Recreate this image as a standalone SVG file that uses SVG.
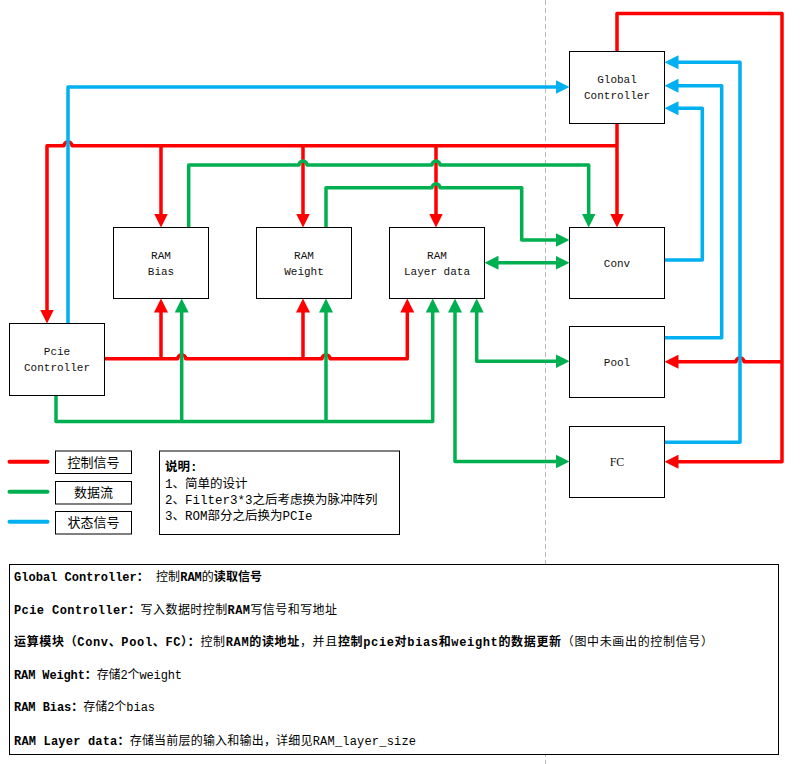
<svg xmlns="http://www.w3.org/2000/svg" width="802" height="764" viewBox="0 0 802 764">
  <style>
    .ctl { fill: none; stroke: #FF0000; stroke-width: 3.5; stroke-linejoin: round; }
    .dat { fill: none; stroke: #00B050; stroke-width: 3.5; stroke-linejoin: round; }
    .sts { fill: none; stroke: #00B0F0; stroke-width: 3.5; stroke-linejoin: round; }
    .box { fill: #FFFFFF; stroke: #000000; stroke-width: 1; }
    .lbl { font-family: "Liberation Mono", "Noto Sans CJK SC", monospace; font-size: 11px; fill: #111111; text-anchor: middle; }
    .cjk { font-family: "Noto Sans CJK SC", sans-serif; font-size: 13px; fill: #000000; text-anchor: middle; }
    .note { font-family: "Liberation Mono", "Noto Sans CJK SC", monospace; font-size: 12.5px; fill: #000000; }
    .desc { font-family: "Liberation Mono", "Noto Sans CJK SC", monospace; font-size: 12px; fill: #000000; }
    .b { font-weight: bold; }
  </style>
  <defs>
    <marker id="arrow-ctl" markerUnits="userSpaceOnUse" viewBox="0 0 14 14" markerWidth="14" markerHeight="14" refX="8" refY="7" orient="auto-start-reverse">
      <path d="M0,0 L14,7 L0,14 z" fill="#FF0000"/>
    </marker>
    <marker id="arrow-dat" markerUnits="userSpaceOnUse" viewBox="0 0 14 14" markerWidth="14" markerHeight="14" refX="8" refY="7" orient="auto-start-reverse">
      <path d="M0,0 L14,7 L0,14 z" fill="#00B050"/>
    </marker>
    <marker id="arrow-sts" markerUnits="userSpaceOnUse" viewBox="0 0 14 14" markerWidth="14" markerHeight="14" refX="8" refY="7" orient="auto-start-reverse">
      <path d="M0,0 L14,7 L0,14 z" fill="#00B0F0"/>
    </marker>
  </defs>

  <!-- boundary between memory side and compute side -->
  <line x1="545.5" y1="0" x2="545.5" y2="764" stroke="#BBBBBB" stroke-width="1" stroke-dasharray="5,3"/>

  <g id="connectors">
    <!-- control signals -->
    <path class="ctl" d="M617,51.5 V13.5 H782 V461.7 H670.5" marker-end="url(#arrow-ctl)"/>
    <path class="ctl" d="M782,361.7 H744 A4,4 0 0 0 736,361.7 H670.5" marker-end="url(#arrow-ctl)"/>
    <path class="ctl" d="M617,123.5 V221.5" marker-end="url(#arrow-ctl)"/>
    <path class="ctl" d="M617,145.7 H72 A4,4 0 0 0 64,145.7 H47 V317.5" marker-end="url(#arrow-ctl)"/>
    <path class="ctl" d="M161,145.7 V221.5" marker-end="url(#arrow-ctl)"/>
    <path class="ctl" d="M303,145.7 V221.5" marker-end="url(#arrow-ctl)"/>
    <path class="ctl" d="M436,145.7 V221.5" marker-end="url(#arrow-ctl)"/>
    <path class="ctl" d="M104.5,358.7 H177.7 A4,4 0 0 1 185.7,358.7 H322 A4,4 0 0 1 330,358.7 H407.3 V304.5" marker-end="url(#arrow-ctl)"/>
    <path class="ctl" d="M161,358.7 V304.5" marker-end="url(#arrow-ctl)"/>
    <path class="ctl" d="M303,358.7 V304.5" marker-end="url(#arrow-ctl)"/>

    <!-- status signals -->
    <path class="sts" d="M68,323.5 V87 H563.5" marker-end="url(#arrow-sts)"/>
    <path class="sts" d="M664.5,260 H702.3 V108.3 H670.5" marker-end="url(#arrow-sts)"/>
    <path class="sts" d="M664.5,337.7 H721.7 V85.7 H670.5" marker-end="url(#arrow-sts)"/>
    <path class="sts" d="M664.5,442.3 H740 V62.3 H670.5" marker-end="url(#arrow-sts)"/>

    <!-- data flow -->
    <path class="dat" d="M188.7,227.5 V165 H299 A4,4 0 0 1 307,165 H432 A4,4 0 0 1 440,165 H588.7 V221.5" marker-end="url(#arrow-dat)"/>
    <path class="dat" d="M326,227.5 V187.7 H432 A4,4 0 0 1 440,187.7 H521.7 V240 H563.5" marker-end="url(#arrow-dat)"/>
    <path class="dat" d="M490.5,262.7 H563.5" marker-start="url(#arrow-dat)" marker-end="url(#arrow-dat)"/>
    <path class="dat" d="M476.7,304.5 V361.3 H563.5" marker-start="url(#arrow-dat)" marker-end="url(#arrow-dat)"/>
    <path class="dat" d="M455,304.5 V461.5 H563.5" marker-start="url(#arrow-dat)" marker-end="url(#arrow-dat)"/>
    <path class="dat" d="M56,395.5 V421.5 H432.7 V304.5" marker-end="url(#arrow-dat)"/>
    <path class="dat" d="M181.7,421.5 V304.5" marker-end="url(#arrow-dat)"/>
    <path class="dat" d="M326,421.5 V304.5" marker-end="url(#arrow-dat)"/>
  </g>

  <g id="global-controller">
    <rect class="box" x="569.5" y="51.5" width="95" height="72"/>
    <text class="lbl" x="617" y="83">Global</text>
    <text class="lbl" x="617" y="99">Controller</text>
  </g>
  <g id="ram-bias">
    <rect class="box" x="113.5" y="227.5" width="95" height="71"/>
    <text class="lbl" x="161" y="258.5">RAM</text>
    <text class="lbl" x="161" y="274.7">Bias</text>
  </g>
  <g id="ram-weight">
    <rect class="box" x="256.5" y="227.5" width="95" height="71"/>
    <text class="lbl" x="304" y="258.5">RAM</text>
    <text class="lbl" x="304" y="274.7">Weight</text>
  </g>
  <g id="ram-layer-data">
    <rect class="box" x="389.5" y="227.5" width="95" height="71"/>
    <text class="lbl" x="437" y="258.5">RAM</text>
    <text class="lbl" x="437" y="274.7">Layer data</text>
  </g>
  <g id="pcie-controller">
    <rect class="box" x="9.5" y="323.5" width="95" height="72"/>
    <text class="lbl" x="57" y="354.7">Pcie</text>
    <text class="lbl" x="57" y="370.7">Controller</text>
  </g>
  <g id="conv">
    <rect class="box" x="569.5" y="227.5" width="95" height="71"/>
    <text class="lbl" x="617" y="266.7">Conv</text>
  </g>
  <g id="pool">
    <rect class="box" x="569.5" y="326.5" width="95" height="71"/>
    <text class="lbl" x="617" y="365.7">Pool</text>
  </g>
  <g id="fc">
    <rect class="box" x="569.5" y="426.5" width="95" height="71"/>
    <text class="lbl" x="617" y="465.7" style="font-family: 'Liberation Serif', serif; font-size: 12px;">FC</text>
  </g>

  <g id="legend">
    <line x1="9.5" y1="461.7" x2="47.5" y2="461.7" stroke="#FF0000" stroke-width="4" stroke-linecap="round"/>
    <line x1="9.5" y1="491.7" x2="47.5" y2="491.7" stroke="#00B050" stroke-width="4" stroke-linecap="round"/>
    <line x1="9.5" y1="521.7" x2="47.5" y2="521.7" stroke="#00B0F0" stroke-width="4" stroke-linecap="round"/>
    <rect class="box" x="55.5" y="451" width="76" height="22.5"/>
    <rect class="box" x="55.5" y="481.5" width="76" height="22.5"/>
    <rect class="box" x="55.5" y="511.5" width="76" height="22.5"/>
    <text class="cjk" x="93.5" y="466.5">控制信号</text>
    <text class="cjk" x="93.5" y="497">数据流</text>
    <text class="cjk" x="93.5" y="527">状态信号</text>
  </g>

  <g id="notes">
    <rect class="box" x="159.5" y="451" width="240" height="83.5"/>
    <text class="note b" x="165" y="470.5">说明:</text>
    <text class="note" x="165" y="487.5">1、简单的设计</text>
    <text class="note" x="165" y="503.5">2、Filter3*3之后考虑换为脉冲阵列</text>
    <text class="note" x="165" y="520">3、ROM部分之后换为PCIe</text>
  </g>

  <g id="description">
    <rect class="box" x="9.5" y="564.5" width="769" height="190"/>
    <text class="desc" x="14" y="581" textLength="248" lengthAdjust="spacing"><tspan class="b">Global Controller：</tspan> 控制<tspan class="b">RAM</tspan>的<tspan class="b">读取信号</tspan></text>
    <text class="desc" x="14" y="614" textLength="323" lengthAdjust="spacing"><tspan class="b">Pcie Controller：</tspan>写入数据时控制<tspan class="b">RAM</tspan>写信号和写地址</text>
    <text class="desc" x="14" y="645.5" textLength="699" lengthAdjust="spacing"><tspan class="b">运算模块（Conv、Pool、FC）：</tspan>控制<tspan class="b">RAM的读地址</tspan>，并且<tspan class="b">控制pcie对bias和weight的数据更新</tspan>（图中未画出的控制信号）</text>
    <text class="desc" x="14" y="678.5" textLength="168" lengthAdjust="spacing"><tspan class="b">RAM Weight：</tspan>存储2个weight</text>
    <text class="desc" x="14" y="711" textLength="141" lengthAdjust="spacing"><tspan class="b">RAM Bias：</tspan>存储2个bias</text>
    <text class="desc" x="14" y="744.5" textLength="402" lengthAdjust="spacing"><tspan class="b">RAM Layer data：</tspan>存储当前层的输入和输出，详细见RAM_layer_size</text>
  </g>
</svg>
